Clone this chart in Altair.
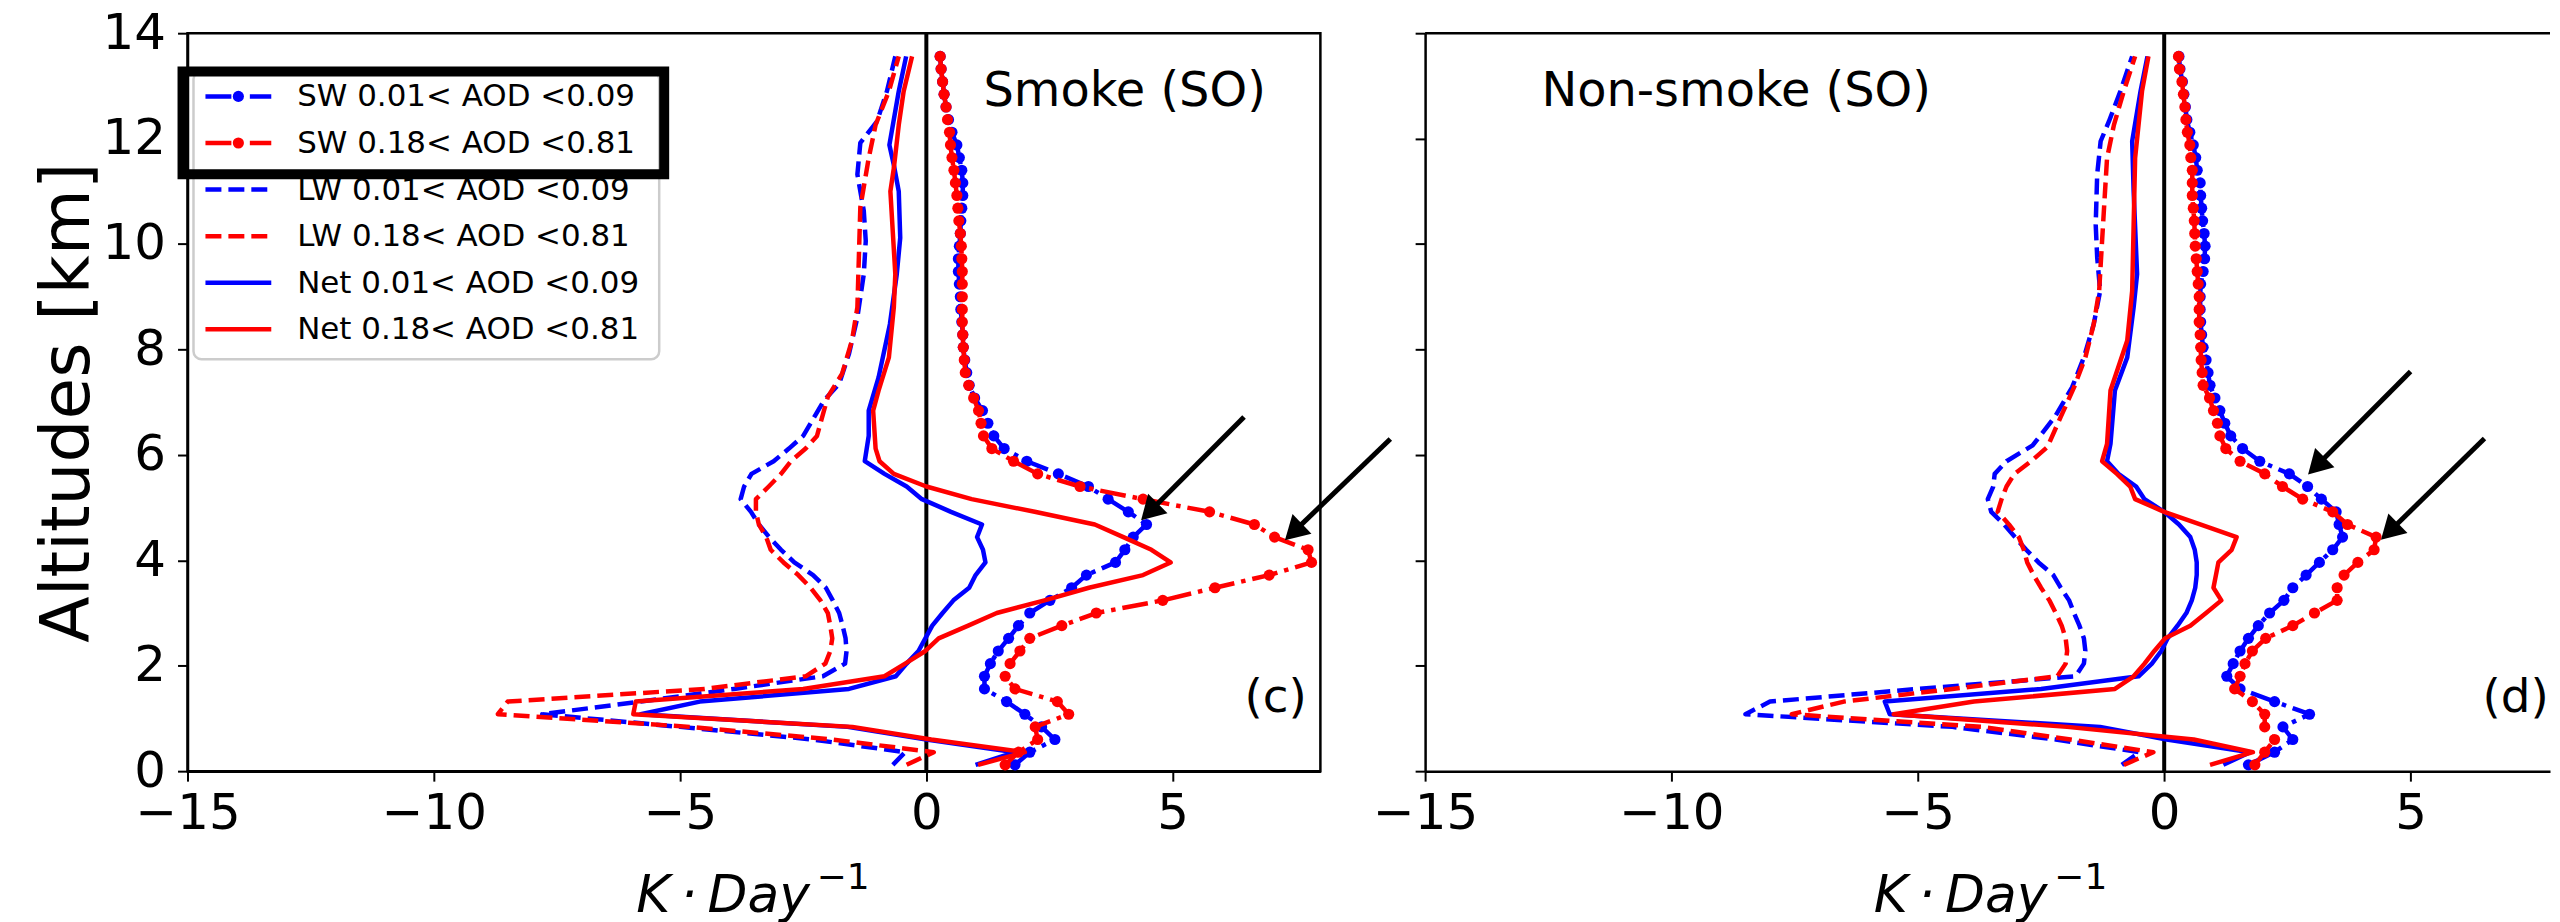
import math
import altair as alt
import pandas as pd

# ---------------- data ----------------
ALT_GRID = [0.12, 0.36, 0.60, 0.84, 1.08, 1.32, 1.56, 1.80, 2.04, 2.28, 2.52, 2.76, 3.00,
            3.24, 3.48, 3.72, 3.96, 4.20, 4.44, 4.68, 4.92, 5.16, 5.40, 5.64, 5.88, 6.12,
            6.36, 6.60, 6.84, 7.08, 7.32, 7.56, 7.80, 8.04, 8.28, 8.52, 8.76, 9.00, 9.24,
            9.48, 9.72, 9.96, 10.20, 10.44, 10.68, 10.92, 11.16, 11.40, 11.64, 11.88, 12.12,
            12.36, 12.60, 12.84, 13.08, 13.32, 13.56]

LOW_LEVELS = ALT_GRID[:25]  # 0.12 .. 5.88 km

# --- Smoke (SO) panel ---
SMOKE_SW_LO = [1.80, 2.10, 2.61, 2.34, 2.00, 1.63, 1.18, 1.18, 1.30, 1.46, 1.67, 1.87, 2.10,
               2.51, 2.95, 3.25, 3.84, 4.03, 4.20, 4.47, 4.10, 3.69, 3.29, 2.68, 2.04, 1.58,
               1.37, 1.25, 1.14, 0.98, 0.87, 0.82, 0.78, 0.75, 0.74, 0.72, 0.70, 0.69, 0.67,
               0.65, 0.65, 0.67, 0.69, 0.70, 0.72, 0.74, 0.74, 0.72, 0.67, 0.62, 0.52, 0.45,
               0.40, 0.36, 0.33, 0.30, 0.28]
SMOKE_SW_HI = [1.60, 1.87, 2.26, 2.21, 2.89, 2.66, 1.80, 1.60, 1.70, 1.90, 2.10, 2.75, 3.45,
               4.80, 5.86, 6.96, 7.82, 7.75, 7.07, 6.66, 5.75, 4.40, 3.12, 2.26, 1.77, 1.33,
               1.16, 1.11, 1.06, 0.96, 0.86, 0.79, 0.77, 0.75, 0.74, 0.73, 0.73, 0.73, 0.73,
               0.73, 0.72, 0.71, 0.69, 0.66, 0.64, 0.62, 0.59, 0.56, 0.52, 0.49, 0.47, 0.43,
               0.40, 0.36, 0.33, 0.30, 0.28]

SMOKE_LW_LO_ALT = ALT_GRID[:27] + [7.03, 7.35, 7.92, 8.61, 9.43, 10.06, 10.63, 11.32, 11.92,
                                   12.33, 12.90, 13.56]
SMOKE_LW_LO = [-0.68, -0.43, -2.30, -5.00, -7.80, -5.80, -3.90, -2.10, -1.65, -1.62, -1.64,
               -1.70, -1.77, -1.90, -2.04, -2.30, -2.68, -2.95, -3.19, -3.40, -3.56, -3.77,
               -3.70, -3.55, -3.10, -2.79, -2.50,
               -2.08, -1.77, -1.57, -1.40, -1.27, -1.23, -1.27, -1.40, -1.34, -1.00, -0.80, -0.63]
SMOKE_LW_HI_ALT = ALT_GRID[:27] + [6.60, 7.10, 7.54, 8.17, 8.80, 9.75, 10.70, 11.63, 12.26,
                                   12.90, 13.56]
SMOKE_LW_HI = [-0.40, 0.15, -1.90, -4.80, -8.70, -8.50, -4.50, -2.45, -2.05, -1.95, -1.91,
               -1.95, -2.00, -2.15, -2.35, -2.60, -2.90, -3.16, -3.25, -3.40, -3.46, -3.46,
               -3.20, -2.95, -2.75, -2.45, -2.22,
               -2.15, -2.00, -1.71, -1.51, -1.40, -1.37, -1.34, -1.17, -1.03, -0.76, -0.56]

SMOKE_NET_LO_ALT = LOW_LEVELS + [6.36, 6.84, 7.47, 8.48, 9.43, 10.12, 11.00, 11.50, 11.88,
                                 12.90, 13.56]
SMOKE_NET_LO = [1.00, 1.80, 0.00, -1.60, -5.80, -4.60, -1.57, -0.62, -0.40, -0.16, -0.02,
                0.12, 0.33, 0.55, 0.87, 1.00, 1.20, 1.15, 1.03, 1.13, 0.50, -0.09, -0.40,
                -0.85, -1.25,
                -1.17, -1.17, -0.97, -0.74, -0.60, -0.53, -0.56, -0.66, -0.75, -0.56, -0.41]
SMOKE_NET_HI_ALT = LOW_LEVELS + [6.12, 6.84, 7.22, 7.85, 8.80, 9.43, 10.37, 11.00, 11.44,
                                 12.26, 12.90, 13.56]
SMOKE_NET_HI = [1.05, 2.00, 0.10, -1.50, -5.95, -5.90, -2.50, -0.85, -0.43, -0.02, 0.25,
                0.85, 1.43, 2.40, 3.30, 4.40, 4.96, 4.57, 4.00, 3.42, 2.20, 0.92, 0.00,
                -0.66, -0.95,
                -1.03, -1.08, -0.97, -0.76, -0.66, -0.63, -0.69, -0.73, -0.66, -0.56, -0.46, -0.29]

# --- Non-smoke (SO) panel ---
NONSMOKE_SW_LO = [1.71, 2.24, 2.61, 2.41, 2.95, 2.24, 1.54, 1.27, 1.40, 1.54, 1.71, 1.91,
                  2.14, 2.43, 2.61, 2.88, 3.15, 3.42, 3.62, 3.55, 3.49, 3.19, 2.91, 2.54,
                  1.94, 1.59, 1.35, 1.23, 1.13, 1.03, 0.93, 0.89, 0.85, 0.79, 0.76, 0.74,
                  0.73, 0.73, 0.74, 0.79, 0.82, 0.83, 0.81, 0.78, 0.76, 0.74, 0.73, 0.67,
                  0.64, 0.59, 0.52, 0.46, 0.43, 0.40, 0.37, 0.32, 0.30]
NONSMOKE_SW_HI = [1.84, 2.04, 2.24, 2.04, 2.04, 1.79, 1.43, 1.54, 1.64, 1.79, 2.06, 2.61,
                  3.05, 3.51, 3.51, 3.65, 3.93, 4.26, 4.30, 3.72, 3.42, 2.81, 2.40, 2.04,
                  1.54, 1.25, 1.13, 1.08, 1.00, 0.92, 0.79, 0.77, 0.75, 0.74, 0.73, 0.71,
                  0.71, 0.71, 0.69, 0.67, 0.65, 0.63, 0.62, 0.61, 0.59, 0.57, 0.57, 0.57,
                  0.54, 0.52, 0.47, 0.44, 0.42, 0.39, 0.36, 0.31, 0.29]

NONSMOKE_LW_LO_ALT = LOW_LEVELS + [6.18, 6.72, 7.28, 7.85, 8.48, 9.11, 9.75, 10.37, 11.32,
                                   11.95, 12.33, 12.90, 13.56]
NONSMOKE_LW_LO = [-0.86, -0.50, -2.20, -4.30, -8.50, -8.00, -5.00, -1.80, -1.63, -1.60,
                  -1.63, -1.72, -1.83, -1.93, -2.10, -2.25, -2.55, -2.80, -3.03, -3.25,
                  -3.51, -3.58, -3.47, -3.44, -3.20,
                  -2.67, -2.22, -1.87, -1.63, -1.43, -1.30, -1.36, -1.39, -1.36, -1.29,
                  -1.12, -0.89, -0.65]
NONSMOKE_LW_HI_ALT = LOW_LEVELS + [6.15, 6.72, 7.28, 7.85, 8.48, 9.11, 9.75, 10.70, 11.63,
                                   12.26, 12.90, 13.56]
NONSMOKE_LW_HI = [-0.82, -0.22, -1.90, -3.70, -7.56, -6.50, -4.30, -2.17, -2.00, -1.97,
                  -2.00, -2.08, -2.20, -2.33, -2.50, -2.65, -2.78, -2.85, -2.95, -3.15,
                  -3.38, -3.30, -3.20, -3.04, -2.70,
                  -2.37, -2.10, -1.83, -1.60, -1.43, -1.32, -1.28, -1.22, -1.16, -1.02,
                  -0.82, -0.59]

NONSMOKE_NET_LO_ALT = LOW_LEVELS + [6.21, 7.22, 7.85, 8.80, 9.43, 11.00, 11.95, 12.90, 13.56]
NONSMOKE_NET_LO = [1.20, 1.74, 0.05, -1.30, -5.57, -5.67, -2.50, -0.52, -0.25, -0.06, 0.07,
                   0.27, 0.45, 0.56, 0.63, 0.66, 0.66, 0.62, 0.53, 0.30, 0.00, -0.40, -0.57,
                   -0.93, -1.16,
                   -1.09, -1.00, -0.75, -0.62, -0.55, -0.62, -0.65, -0.48, -0.34]
NONSMOKE_NET_HI_ALT = LOW_LEVELS + [6.21, 7.22, 8.17, 9.11, 10.37, 11.63, 12.90, 13.56]
NONSMOKE_NET_HI = [0.93, 1.80, 0.60, -1.97, -5.49, -3.86, -1.00, -0.62, -0.40, -0.20, 0.02,
                   0.53, 0.85, 1.16, 1.00, 1.05, 1.10, 1.37, 1.47, 0.73, 0.00, -0.59, -0.69,
                   -0.96, -1.26,
                   -1.16, -1.09, -0.75, -0.65, -0.62, -0.59, -0.45, -0.32]

# arrows: tail x, tail alt, tip x, tip alt
SMOKE_ARROWS_TAIL_X = [6.45, 9.42]
SMOKE_ARROWS_TAIL_Y = [6.72, 6.30]
SMOKE_ARROWS_TIP_X = [4.36, 7.28]
SMOKE_ARROWS_TIP_Y = [4.76, 4.38]
NONSMOKE_ARROWS_TAIL_X = [5.00, 6.50]
NONSMOKE_ARROWS_TAIL_Y = [7.58, 6.31]
NONSMOKE_ARROWS_TIP_X = [2.92, 4.40]
NONSMOKE_ARROWS_TIP_Y = [5.63, 4.39]

LEGEND_LABELS = ["SW 0.01< AOD <0.09", "SW 0.18< AOD <0.81",
                 "LW 0.01< AOD <0.09", "LW 0.18< AOD <0.81",
                 "Net 0.01< AOD <0.09", "Net 0.18< AOD <0.81"]
PANEL_TITLES = ["Smoke (SO)", "Non-smoke (SO)"]
PANEL_TITLE_X = [1.16, -12.64]
PANEL_TITLE_Y = [12.61, 12.61]
PANEL_TAGS = ["(c)", "(d)"]
PANEL_TAG_X = [6.46, 6.46]
PANEL_TAG_Y = [1.12, 1.12]
X_TICKS = [-15, -10, -5, 0, 5]
Y_TICKS = [0, 2, 4, 6, 8, 10, 12, 14]
X_TITLE_MAIN = "K\u2009·\u2009Day"
X_TITLE_SUP = "−1"
Y_TITLE = "Altitudes [km]"

# ---------------- styles ----------------
FONT = "DejaVu Sans"
BLUE = "#0000ff"
RED = "#ff0000"
LINE_W = 4.5
DASHED = [16, 7]
DASHDOT = [26, 7, 4.5, 7]
DOT_SIZE = 125
HEIGHT = 740
W_LEFT = 1136
PX_PER_UNIT = W_LEFT / 23.0
XMAX_LEFT = 8
XMAX_RIGHT = 7.83
W_RIGHT = round(PX_PER_UNIT * (XMAX_RIGHT + 15))
HEAD_SIZE = 750
HEAD_H = math.sqrt(3) * (math.sqrt(HEAD_SIZE) / 2) / 2
TICK_FS = 50
MINUS_EXPR = "replace(datum.label, '-', '\u2212')"


def make_panel(idx, sw_lo, sw_hi, lw_lo, lw_hi, net_lo, net_hi, arrows, xmax, width, left):
    xs = alt.Scale(domain=[-15, xmax], nice=False, zero=False)
    ys = alt.Scale(domain=[0, 14], nice=False, zero=False)
    xaxis = alt.Axis(values=X_TICKS, title="", grid=False, labelFlush=False,
                     tickSize=10, tickWidth=2, tickColor="black", domainColor="black",
                     domainWidth=2.5, labelFontSize=TICK_FS, labelPadding=7,
                     labelColor="black", labelFont=FONT, labelExpr=MINUS_EXPR)
    yaxis = alt.Axis(values=Y_TICKS, title=Y_TITLE if left else "", labels=left, grid=False,
                     tickSize=10, tickWidth=2, tickColor="black", domainColor="black",
                     domainWidth=2.5, labelFontSize=TICK_FS, labelPadding=12,
                     labelColor="black", titleFontSize=68, titleFontWeight="normal",
                     titleColor="black", titlePadding=0, labelFont=FONT, titleFont=FONT)

    def X(f):
        return alt.X(f, type="quantitative", scale=xs, axis=xaxis)

    def Y(f):
        return alt.Y(f, type="quantitative", scale=ys, axis=yaxis)

    layers = []
    layers.append(alt.Chart(pd.DataFrame({"x": [0]})).mark_rule(
        color="black", strokeWidth=4).encode(x=X("x")))

    series = [
        (ALT_GRID, sw_lo, BLUE, DASHDOT, True),
        (ALT_GRID, sw_hi, RED, DASHDOT, True),
        (lw_lo[0], lw_lo[1], BLUE, DASHED, False),
        (lw_hi[0], lw_hi[1], RED, DASHED, False),
        (net_lo[0], net_lo[1], BLUE, None, False),
        (net_hi[0], net_hi[1], RED, None, False),
    ]
    for alts, vals, color, dash, dots in series:
        df = pd.DataFrame({"alt": alts, "x": vals})
        kw = dict(color=color, strokeWidth=LINE_W, strokeJoin="round")
        if dash is not None:
            kw["strokeDash"] = dash
            kw["strokeCap"] = "butt"
        base = alt.Chart(df)
        layers.append(base.mark_line(**kw).encode(x=X("x"), y=Y("alt"),
                                                  order=alt.Order("alt:Q")))
        if dots:
            layers.append(base.mark_circle(color=color, size=DOT_SIZE, opacity=1)
                          .encode(x=X("x"), y=Y("alt")))

    # arrows
    px = width / (xmax + 15.0)
    py = HEIGHT / 14.0
    rows = []
    for tx, ty, hx, hy in zip(*arrows):
        dxp = (hx - tx) * px
        dyp = -(hy - ty) * py
        L = math.hypot(dxp, dyp)
        ux, uy = dxp / L, dyp / L
        cx = hx - ux * HEAD_H / px
        cy = hy + uy * HEAD_H / py
        ang = math.degrees(math.atan2(ux, -uy)) % 360
        rows.append({"tx": tx, "ty": ty, "cx": cx, "cy": cy, "ang": ang})
    adf = pd.DataFrame(rows)
    layers.append(alt.Chart(adf).mark_rule(color="black", strokeWidth=5).encode(
        x=X("tx"), x2=alt.X2("cx"), y=Y("ty"), y2=alt.Y2("cy")))
    layers.append(alt.Chart(adf).mark_point(shape="triangle-up", filled=True, color="black",
                                            size=HEAD_SIZE, opacity=1).encode(
        x=X("cx"), y=Y("cy"), angle=alt.Angle("ang:Q", scale=None)))

    # texts
    tdf = pd.DataFrame({"x": [PANEL_TITLE_X[idx]], "alt": [PANEL_TITLE_Y[idx]],
                        "t": [PANEL_TITLES[idx]]})
    layers.append(alt.Chart(tdf).mark_text(font=FONT, fontSize=48, align="left",
                                           baseline="alphabetic", color="black")
                  .encode(x=X("x"), y=Y("alt"), text="t:N"))
    gdf = pd.DataFrame({"x": [PANEL_TAG_X[idx]], "alt": [PANEL_TAG_Y[idx]],
                        "t": [PANEL_TAGS[idx]]})
    layers.append(alt.Chart(gdf).mark_text(font=FONT, fontSize=47, align="left",
                                           baseline="alphabetic", color="black")
                  .encode(x=X("x"), y=Y("alt"), text="t:N"))

    one = pd.DataFrame({"a": [0]})
    # x-axis title drawn as text: italic main part plus a raised superscript
    layers.append(alt.Chart(one).mark_text(text=X_TITLE_MAIN, font=FONT, fontSize=52,
                                           fontStyle="italic", align="left",
                                           baseline="alphabetic", color="black")
                  .encode(x=alt.value(450), y=alt.value(HEIGHT + 141)))
    layers.append(alt.Chart(one).mark_text(text=X_TITLE_SUP, font=FONT, fontSize=36,
                                           align="left", baseline="alphabetic",
                                           color="black")
                  .encode(x=alt.value(631), y=alt.value(HEIGHT + 118)))

    if left:
        # legend frame
        layers.append(alt.Chart(one).mark_rect(fill="white", fillOpacity=0.8,
                                               stroke="#cccccc", strokeWidth=2.5,
                                               cornerRadius=8)
                      .encode(x=alt.value(6), x2=alt.value(473), y=alt.value(38),
                              y2=alt.value(327)))
        styles = [(BLUE, DASHDOT, True), (RED, DASHDOT, True), (BLUE, DASHED, False),
                  (RED, DASHED, False), (BLUE, None, False), (RED, None, False)]
        for i, (lab, (color, dash, dots)) in enumerate(zip(LEGEND_LABELS, styles)):
            ly = 63.4 + i * 46.7
            kw = dict(color=color, strokeWidth=LINE_W)
            if dash is not None:
                kw["strokeDash"] = dash
                kw["strokeCap"] = "butt"
            layers.append(alt.Chart(one).mark_rule(**kw).encode(
                x=alt.value(18), x2=alt.value(84), y=alt.value(ly)))
            if dots:
                layers.append(alt.Chart(one).mark_circle(color=color, size=DOT_SIZE,
                                                         opacity=1)
                              .encode(x=alt.value(51), y=alt.value(ly)))
            layers.append(alt.Chart(one).mark_text(text=lab, font=FONT, fontSize=31,
                                                   align="left", baseline="middle",
                                                   color="black")
                          .encode(x=alt.value(110), y=alt.value(ly + 1)))
        # thick black box around the SW entries
        layers.append(alt.Chart(one).mark_rect(fillOpacity=0, fill="white", stroke="black",
                                               strokeWidth=10)
                      .encode(x=alt.value(-5), x2=alt.value(478), y=alt.value(38.5),
                              y2=alt.value(141.5)))
        view = alt.ViewBackground(stroke="black", strokeWidth=2.5)
    else:
        layers.append(alt.Chart(one).mark_rule(color="black", strokeWidth=2.5).encode(
            x=alt.value(0), x2=alt.value(width), y=alt.value(0)))
        view = alt.ViewBackground(strokeOpacity=0)

    return alt.layer(*layers).properties(width=width, height=HEIGHT, view=view)


left_panel = make_panel(
    0, SMOKE_SW_LO, SMOKE_SW_HI,
    (SMOKE_LW_LO_ALT, SMOKE_LW_LO), (SMOKE_LW_HI_ALT, SMOKE_LW_HI),
    (SMOKE_NET_LO_ALT, SMOKE_NET_LO), (SMOKE_NET_HI_ALT, SMOKE_NET_HI),
    (SMOKE_ARROWS_TAIL_X, SMOKE_ARROWS_TAIL_Y, SMOKE_ARROWS_TIP_X, SMOKE_ARROWS_TIP_Y),
    XMAX_LEFT, W_LEFT, True)
right_panel = make_panel(
    1, NONSMOKE_SW_LO, NONSMOKE_SW_HI,
    (NONSMOKE_LW_LO_ALT, NONSMOKE_LW_LO), (NONSMOKE_LW_HI_ALT, NONSMOKE_LW_HI),
    (NONSMOKE_NET_LO_ALT, NONSMOKE_NET_LO), (NONSMOKE_NET_HI_ALT, NONSMOKE_NET_HI),
    (NONSMOKE_ARROWS_TAIL_X, NONSMOKE_ARROWS_TAIL_Y, NONSMOKE_ARROWS_TIP_X,
     NONSMOKE_ARROWS_TIP_Y),
    XMAX_RIGHT, W_RIGHT, False)

chart = alt.hconcat(left_panel, right_panel, spacing=105, bounds="flush").properties(
    padding={"left": 25, "top": -3, "right": 0, "bottom": 0},
    background="white",
).configure(font=FONT)

chart.save("out.html", embed_options={"renderer": "svg", "actions": False})
